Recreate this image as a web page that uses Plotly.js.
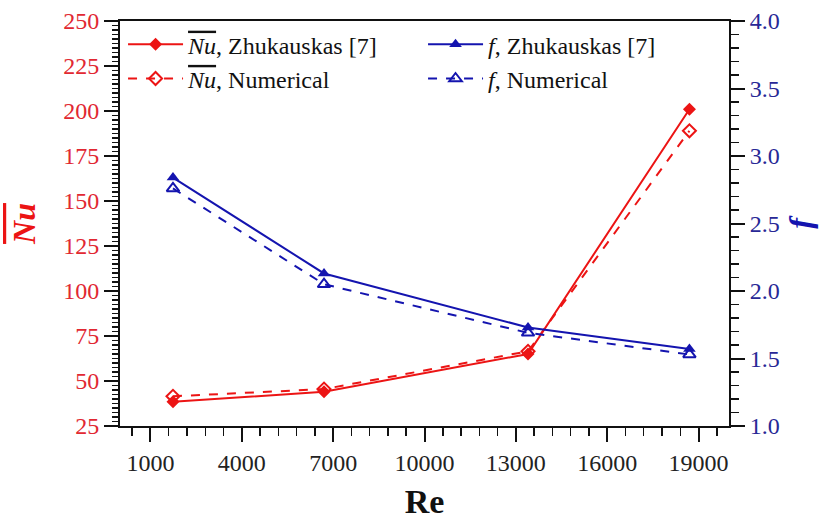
<!DOCTYPE html>
<html>
<head>
<meta charset="utf-8">
<script src="https://cdn.plot.ly/plotly-3.0.1.min.js"></script>
<style>html,body{margin:0;padding:0;background:#fff;}#chart{width:832px;height:524px;}</style>
</head>
<body>
<div id="chart"></div>
<script>
// Data
const re = [1740, 6700, 13400, 18700];
const nuZhukauskas = [38.5, 44, 65, 201];
const nuNumerical = [41.5, 45.5, 66.5, 189];
const fZhukauskas = [2.84, 2.13, 1.73, 1.57];
const fNumerical = [2.76, 2.05, 1.69, 1.53];
const xTicks = [1000, 4000, 7000, 10000, 13000, 16000, 19000];

const RED = 'rgb(236,20,20)';
const BLUE = 'rgb(20,20,175)';
const NU = '<span style="text-decoration:overline"><i>Nu</i></span>';

const traces = [
  {x: re, y: nuZhukauskas, name: NU + ', Zhukauskas [7]', yaxis: 'y', mode: 'lines+markers',
   line: {color: RED, width: 2}, marker: {symbol: 'diamond', size: 10, color: RED}},
  {x: re, y: fZhukauskas, name: '<i>f</i>, Zhukauskas [7]', yaxis: 'y2', mode: 'lines+markers',
   line: {color: BLUE, width: 2}, marker: {symbol: 'triangle-up', size: 11, color: BLUE}},
  {x: re, y: nuNumerical, name: NU + ', Numerical', yaxis: 'y', mode: 'lines+markers',
   line: {color: RED, width: 2, dash: 'dash'}, marker: {symbol: 'diamond-open', size: 10, color: RED, line: {width: 2}}},
  {x: re, y: fNumerical, name: '<i>f</i>, Numerical', yaxis: 'y2', mode: 'lines+markers',
   line: {color: BLUE, width: 2, dash: 'dash'}, marker: {symbol: 'triangle-up-open', size: 11, color: BLUE, line: {width: 2}}}
];

const FONT = '"Liberation Serif", "Times New Roman", Times, serif';

const layout = {
  width: 832, height: 524,
  margin: {l: 120, r: 103, t: 21, b: 98},
  paper_bgcolor: '#fff', plot_bgcolor: '#fff',
  font: {family: FONT, color: '#111'},
  showlegend: true,
  legend: {orientation: 'h', x: 0.005, y: 0.997, xanchor: 'left', yanchor: 'top',
    entrywidth: 230, entrywidthmode: 'pixels', itemwidth: 55, font: {family: FONT, size: 24, color: '#111'},
    bgcolor: 'rgba(0,0,0,0)', tracegroupgap: 0},
  xaxis: {range: [0, 20000], tickvals: xTicks, ticktext: xTicks.map(String),
    showgrid: false, zeroline: false, showline: true, linecolor: '#111', linewidth: 2, mirror: true,
    ticks: 'outside', ticklen: 14, tickwidth: 2, tickcolor: '#111',
    minor: {tick0: 1000, dtick: 600, ticks: 'outside', ticklen: 8, tickwidth: 1.5, tickcolor: '#111'},
    tickfont: {family: FONT, size: 24, color: '#222'},
    title: {text: '<b>Re</b>', font: {family: FONT, size: 34, color: '#111'}, standoff: 14}},
  yaxis: {range: [25, 250], tick0: 25, dtick: 25,
    showgrid: false, zeroline: false, showline: true, linecolor: '#111', linewidth: 2,
    ticks: 'outside', ticklen: 14, tickwidth: 2, tickcolor: '#111',
    minor: {dtick: 2.5, ticks: 'outside', ticklen: 6, tickwidth: 1.5, tickcolor: '#111'},
    tickfont: {family: FONT, size: 24, color: 'rgb(225,40,50)'},
    title: {text: '<b><span style="text-decoration:overline"><i>Nu</i></span></b>', font: {family: FONT, size: 32, color: RED}, standoff: 18}},
  yaxis2: {range: [1, 4], tick0: 1, dtick: 0.5, overlaying: 'y', side: 'right', tickformat: '.1f',
    showgrid: false, zeroline: false, showline: true, linecolor: '#111', linewidth: 2,
    ticks: 'outside', ticklen: 14, tickwidth: 2, tickcolor: '#111',
    minor: {dtick: 0.1, ticks: 'outside', ticklen: 8, tickwidth: 1.5, tickcolor: '#111'},
    tickfont: {family: FONT, size: 24, color: 'rgb(40,40,150)'},
    title: {text: '<b><i>f</i></b>', font: {family: FONT, size: 32, color: BLUE}, standoff: 10}}
};

Plotly.newPlot('chart', traces, layout, {displayModeBar: false, staticPlot: true});
</script>
</body>
</html>
